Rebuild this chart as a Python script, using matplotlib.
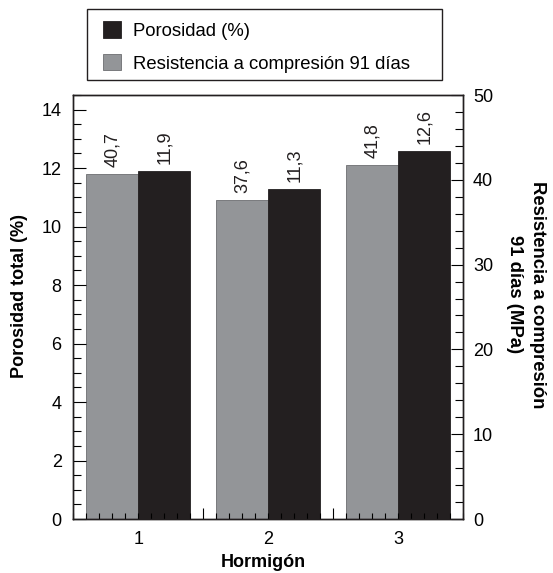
import matplotlib
matplotlib.use("Agg")
import matplotlib.pyplot as plt
from matplotlib.ticker import MultipleLocator, FuncFormatter, FixedLocator
from matplotlib.patches import Patch, Rectangle

plt.rcParams['font.family'] = ['Liberation Sans', 'DejaVu Sans']

hormigon = [1, 2, 3]
porosidad = [11.9, 11.3, 12.6]
resistencia = [40.7, 37.6, 41.8]

GRAY = '#939598'
BLACK = '#231f20'
FS = 13

fig = plt.figure(figsize=(5.53, 5.73), dpi=100)
ax = fig.add_axes([73.5/553, 1-519/573, (463.3-73.5)/553, (519-95)/573])
ax2 = ax.twinx()
ax.set_zorder(ax2.get_zorder() + 1)
ax.patch.set_visible(False)

w = 0.4
xs = list(hormigon)
b2 = ax2.bar([x - w/2 for x in xs], resistencia, width=w, color=GRAY, edgecolor='#6d6e71', linewidth=0.6)
b1 = ax.bar([x + w/2 for x in xs], porosidad, width=w, color=BLACK, edgecolor=BLACK, linewidth=0.6)

fmt = lambda v: f"{v:.1f}".replace('.', ',')
ax2.bar_label(b2, labels=[fmt(v) for v in resistencia], rotation=90, padding=5, fontsize=FS, color='#231f20')
ax.bar_label(b1, labels=[fmt(v) for v in porosidad], rotation=90, padding=5, fontsize=FS, color='#231f20')

ax.set_xlim(0.5, 3.5)
ax.set_ylim(0, 14.5)
ax2.set_ylim(0, 50)

# x axis: major ticks at category boundaries, minor every 0.1 with labels at categories
ax.xaxis.set_major_locator(FixedLocator([1.5, 2.5]))
ax.xaxis.set_major_formatter(FuncFormatter(lambda v, p: ''))
ax.xaxis.set_minor_locator(MultipleLocator(0.1))
ax.xaxis.set_minor_formatter(FuncFormatter(lambda v, p: str(int(round(v))) if abs(v - round(v)) < 1e-6 else ''))
ax.tick_params(axis='x', which='major', direction='in', length=8, width=0.8, top=False)
ax.tick_params(axis='x', which='minor', direction='in', length=4, width=0.8, top=False,
               labelsize=FS, pad=9)

ax.yaxis.set_major_locator(MultipleLocator(2))
ax.yaxis.set_minor_locator(MultipleLocator(0.5))
ax.tick_params(axis='y', which='major', direction='in', length=9, width=0.8, labelsize=FS, pad=8.5)
ax.tick_params(axis='y', which='minor', direction='in', length=5.5, width=0.8)

ax2.yaxis.set_major_locator(MultipleLocator(10))
ax2.yaxis.set_minor_locator(MultipleLocator(2))
ax2.tick_params(axis='y', which='major', direction='in', length=9, width=0.8, labelsize=FS, pad=7)
ax2.tick_params(axis='y', which='minor', direction='in', length=5.5, width=0.8)

for a in (ax, ax2):
    for s in a.spines.values():
        s.set_linewidth(1.0)
        s.set_color('#231f20')

ax.set_xlabel('Hormigón', fontsize=FS, fontweight='bold')
ax.xaxis.set_label_coords(0.486, -0.082)
ax.set_ylabel('Porosidad total (%)', fontsize=FS, fontweight='bold')
ax.yaxis.set_label_coords(-0.118, 0.525)
ax2.set_ylabel('Resistencia a compresión\n91 días (MPa)', fontsize=FS + 0.3, fontweight='bold',
               rotation=270, va='bottom', ha='center', linespacing=1.5)
ax2.yaxis.set_label_coords(1.109, 0.53)

# legend frame (figure coordinates)
fig.patches.append(Rectangle((87/553, 1-80/573), (442-87)/553, (80-9.3)/573,
                             transform=fig.transFigure, facecolor='white',
                             edgecolor='#231f20', linewidth=1.0, zorder=0))

handles = [Patch(facecolor=BLACK, edgecolor=BLACK, linewidth=0.6),
           Patch(facecolor=GRAY, edgecolor='#6d6e71', linewidth=0.6)]
labels = ['Porosidad (%)', 'Resistencia a compresión 91 días']
leg = fig.legend(handles, labels, loc='upper left',
                 bbox_to_anchor=(103/553, 1-21.5/573),
                 borderaxespad=0, fontsize=FS + 0.3, frameon=False,
                 handlelength=1.0, handleheight=1.0, handletextpad=0.6,
                 labelspacing=0.75, borderpad=0.0)

fig.savefig('out.png', dpi=100)
